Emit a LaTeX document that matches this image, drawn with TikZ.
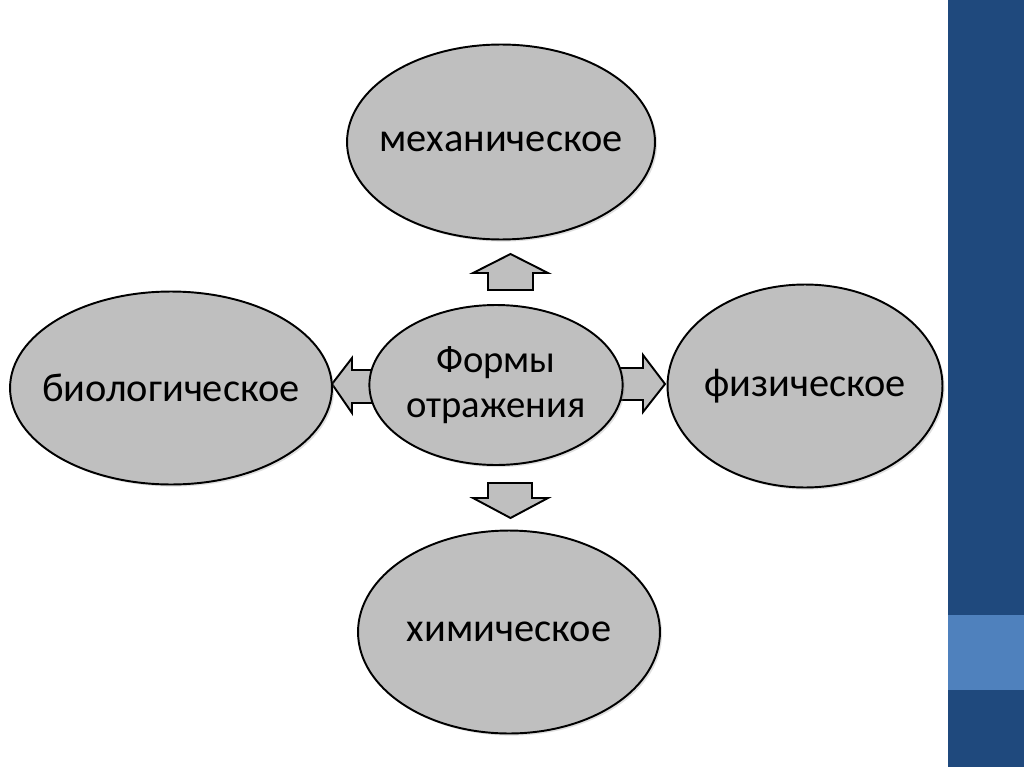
\documentclass[tikz,border=0pt]{standalone}
\usepackage{fontspec}
\setmainfont{Carlito}
\usepackage{tikz}
\usetikzlibrary{shapes.geometric,shadows}
\definecolor{FormGray}{HTML}{BFBFBF}
\definecolor{BarDark}{HTML}{1F497D}
\definecolor{BarLight}{HTML}{4F81BD}
\pgfdeclareradialshading{vignette}{\pgfpoint{0bp}{0bp}}{%
  color(0bp)=(white); color(36bp)=(white); color(50bp)=(black!12); color(72bp)=(black!18)}

\begin{document}
\begin{tikzpicture}[
    x=0.02cm, y=-0.02cm,
    form/.style={
      ellipse,
      draw=black,
      line width=1.1pt,
      fill=FormGray,
      drop shadow={shadow xshift=1.2pt, shadow yshift=-1.2pt, opacity=0.25},
      inner sep=0pt,
      font=\fontsize{23}{27}\selectfont,
      align=center
    },
    blockarr/.style={
      draw=black,
      line width=1.1pt,
      fill=FormGray,
      line join=miter
    }
  ]
  \useasboundingbox (0,0) rectangle (1024,767);

  % slide background
  \shade[shading=vignette] (0,0) rectangle (948,767);
  \fill[BarDark]  (948,0)   rectangle (1024,767);
  \fill[BarLight] (948,615) rectangle (1024,690);

  % block arrows (under the ellipses)
  \draw[blockarr] (488,290) -- (488,273) -- (473,273) -- (510.5,254)
    -- (548,273) -- (533,273) -- (533,290) -- cycle;
  \draw[blockarr] (488,483) -- (488,498) -- (473,498) -- (510.5,518)
    -- (548,498) -- (532,498) -- (532,483) -- cycle;
  \draw[blockarr] (378,370) -- (352,370) -- (352,358) -- (332,384)
    -- (352,413) -- (352,403) -- (378,403) -- cycle;
  \draw[blockarr] (614,368) -- (643,368) -- (643,355) -- (665,384)
    -- (643,412) -- (643,400) -- (614,400) -- cycle;

  \node[form, minimum width=6.16cm, minimum height=3.9cm]  (mech) at (501,142) {\makebox[0pt]{механическое}};
  \node[form, minimum width=6.44cm, minimum height=3.86cm] (bio)  at (171,388) {\makebox[0pt]{биологическое}};
  \node[form, minimum width=5.5cm,  minimum height=4.06cm] (phys) at (805,386) {\makebox[0pt]{физическое}};
  \node[form, minimum width=6.04cm, minimum height=4.06cm] (chem) at (509,632) {\makebox[0pt]{химическое}};
  \node[form, minimum width=4.9cm,  minimum height=3.2cm,
        font=\fontsize{22}{26}\selectfont] (form) at (496,385) {Формы\\отражения};

\end{tikzpicture}
\end{document}
